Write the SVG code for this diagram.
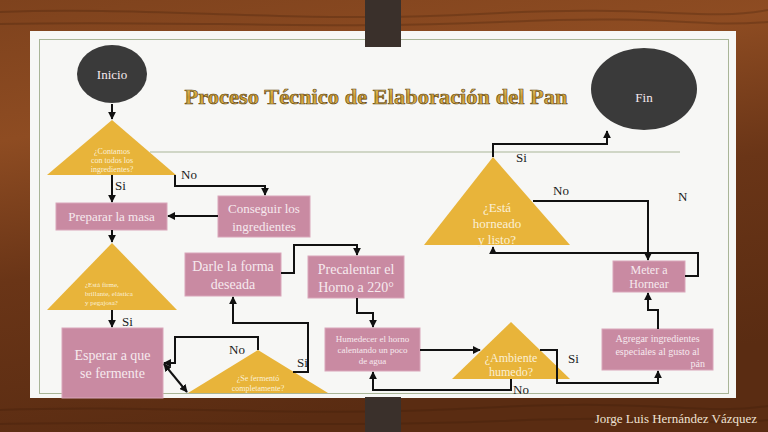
<svg xmlns="http://www.w3.org/2000/svg" width="768" height="432" viewBox="0 0 768 432">
<defs>
<linearGradient id="wood" x1="0" y1="0" x2="0.3" y2="1">
<stop offset="0" stop-color="#7e421d"/>
<stop offset="0.3" stop-color="#8e4c22"/>
<stop offset="0.6" stop-color="#6a3517"/>
<stop offset="1" stop-color="#5a2c12"/>
</linearGradient>
<linearGradient id="gold" x1="0" y1="0" x2="0" y2="1">
<stop offset="0" stop-color="#f0d27a"/>
<stop offset="0.5" stop-color="#c99a2e"/>
<stop offset="1" stop-color="#e6c264"/>
</linearGradient>
<marker id="ah" viewBox="0 0 10 10" refX="9" refY="5" markerWidth="4" markerHeight="4" orient="auto-start-reverse">
<path d="M0,0 L10,5 L0,10 z" fill="#111"/>
</marker>
<style>
.box{fill:#c98aa2;stroke:#d9a6ba;stroke-width:1}
.tri{fill:#e8b43a}
.circ{fill:#3a3a3a}
.nt{font-family:"Liberation Serif",serif;fill:#f6e9ee;text-anchor:middle}
.tt{font-family:"Liberation Serif",serif;fill:#fbf0d6;text-anchor:middle}
.lbl{font-family:"Liberation Serif",serif;fill:#1a1a1a;font-size:13px}
.con path{fill:none;stroke:#111;stroke-width:2;marker-end:url(#ah)}
</style>
</defs>
<rect x="0" y="0" width="768" height="432" fill="url(#wood)"/>
<g opacity="0.25" stroke="#3a1a08" stroke-width="2" fill="none">
<path d="M0,12 C150,6 300,24 480,14 S700,22 768,10"/>
<path d="M0,24 C180,20 320,30 500,22 S690,28 768,22"/>
<path d="M0,410 C150,404 300,418 480,408 S700,416 768,406"/>
<path d="M0,424 C160,420 320,428 500,421 S700,427 768,420"/>
</g>
<rect x="30" y="31" width="706" height="367" fill="#f7f7f5"/>
<rect x="39.5" y="39.5" width="689" height="354" fill="none" stroke="#a9b597" stroke-width="1"/>
<line x1="150" y1="152" x2="680" y2="152" stroke="#a9b597" stroke-width="1"/>
<rect x="365" y="0" width="36" height="47" fill="#3a302b"/>
<rect x="365" y="397" width="36" height="35" fill="#3a302b"/>
<text x="376" y="104" text-anchor="middle" font-family="Liberation Serif,serif" font-weight="bold" font-size="21" fill="url(#gold)" stroke="#5a4010" stroke-width="0.6" textLength="383" lengthAdjust="spacingAndGlyphs">Proceso Técnico de Elaboración del Pan</text>

<g id="inicio"><ellipse class="circ" cx="112" cy="74" rx="35" ry="29"/><text class="nt" x="112" y="79" font-size="13">Inicio</text></g>
<g id="fin"><ellipse class="circ" cx="644" cy="89" rx="53" ry="41"/><text class="nt" x="644" y="102" font-size="13">Fin</text></g>

<g id="t1"><polygon class="tri" points="112,120 47,175 176,175"/>
<text class="tt" font-size="8"><tspan x="112" y="154">¿Contamos</tspan><tspan x="112" y="163">con todos los</tspan><tspan x="112" y="172">ingredientes?</tspan></text></g>
<g id="preparar"><rect class="box" x="56" y="203" width="111" height="27"/><text class="nt" x="111.5" y="221" font-size="13">Preparar la masa</text></g>
<g id="conseguir"><rect class="box" x="218" y="196" width="92" height="41"/><text class="nt" font-size="13"><tspan x="264" y="213">Conseguir los</tspan><tspan x="264" y="231">ingredientes</tspan></text></g>
<g id="t2"><polygon class="tri" points="112,243 47,310 177,310"/>
<text class="tt" font-size="7" text-anchor="start"><tspan x="85" y="287" text-anchor="start">¿Está firme,</tspan><tspan x="85" y="296" text-anchor="start">brillante, elástica</tspan><tspan x="85" y="305" text-anchor="start">y pegajosa?</tspan></text></g>
<g id="esperar"><rect class="box" x="62" y="328" width="101" height="70"/><text class="nt" font-size="14"><tspan x="112.5" y="360">Esperar a que</tspan><tspan x="112.5" y="378">se fermente</tspan></text></g>
<g id="t3"><polygon class="tri" points="258,350 188,393 328,393"/>
<text class="tt" font-size="8"><tspan x="258" y="381">¿Se fermentó</tspan><tspan x="258" y="391">completamente?</tspan></text></g>
<g id="darle"><rect class="box" x="185" y="253" width="96" height="43"/><text class="nt" font-size="14"><tspan x="233" y="271">Darle la forma</tspan><tspan x="233" y="289">deseada</tspan></text></g>
<g id="precalentar"><rect class="box" x="308" y="256" width="96" height="42"/><text class="nt" font-size="14"><tspan x="356" y="274">Precalentar el</tspan><tspan x="356" y="292">Horno a 220°</tspan></text></g>
<g id="humedecer"><rect class="box" x="325" y="328" width="95" height="43"/><text class="nt" font-size="9"><tspan x="372.5" y="342">Humedecer el horno</tspan><tspan x="372.5" y="353">calentando un poco</tspan><tspan x="372.5" y="364">de agua</tspan></text></g>
<g id="ambiente"><polygon class="tri" points="511,322 452,379 570,379"/>
<text class="tt" font-size="12"><tspan x="511" y="362">¿Ambiente</tspan><tspan x="511" y="376">humedo?</tspan></text></g>
<g id="agregar"><rect class="box" x="602" y="329" width="111" height="41"/><text class="nt" font-size="10"><tspan x="657.5" y="342">Agregar ingredientes</tspan><tspan x="657.5" y="355">especiales al gusto al</tspan><tspan x="705" y="367" text-anchor="end">pán</tspan></text></g>
<g id="meter"><rect class="box" x="613" y="261" width="72" height="31"/><text class="nt" font-size="12"><tspan x="649" y="274">Meter a</tspan><tspan x="649" y="288">Hornear</tspan></text></g>
<g id="horneado"><polygon class="tri" points="493,157 424,245 570,245"/>
<text class="tt" font-size="13"><tspan x="497" y="212">¿Está</tspan><tspan x="497" y="228">horneado</tspan><tspan x="497" y="244">y listo?</tspan></text></g>

<g class="con">
<path d="M112,104 L112,119"/>
<path d="M112,175 L112,202"/>
<path d="M175,175 L175,186 L265,186 L265,195"/>
<path d="M218,216 L168,216"/>
<path d="M112,230 L112,242"/>
<path d="M112,310 L112,327"/>
<path d="M164,364 L187,392" style="marker-start:url(#ah)"/>
<path d="M258,350 L258,337 L175,337 L175,363 L164,363"/>
<path d="M293,372 L308,372 L308,323 L233,323 L233,297"/>
<path d="M281,273 L294,273 L294,245 L357,245 L357,255"/>
<path d="M357,298 L357,313 L373,313 L373,327"/>
<path d="M420,350 L480,350"/>
<path d="M511,379 L511,390 L373,390 L373,372"/>
<path d="M540,350 L557,350 L557,383 L658,383 L658,371"/>
<path d="M658,329 L658,310 L648,310 L648,293"/>
<path d="M685,276 L698,276 L698,253 L493,253 L493,247"/>
<path d="M533,201 L648,201 L648,260"/>
<path d="M493,157 L493,144 L607,144 L607,131"/>
</g>
<g id="labels">
<text class="lbl" x="115" y="190">Si</text>
<text class="lbl" x="181" y="179">No</text>
<text class="lbl" x="122" y="326">Si</text>
<text class="lbl" x="229" y="354">No</text>
<text class="lbl" x="297" y="367">Si</text>
<text class="lbl" x="516" y="162">Si</text>
<text class="lbl" x="553" y="195">No</text>
<text class="lbl" x="678" y="201">N</text>
<text class="lbl" x="568" y="363">Si</text>
<text class="lbl" x="513" y="394">No</text>
</g>
<text x="757" y="423" text-anchor="end" font-family="Liberation Serif,serif" font-size="13" fill="#efe2d2">Jorge Luis Hernández Vázquez</text>
</svg>
